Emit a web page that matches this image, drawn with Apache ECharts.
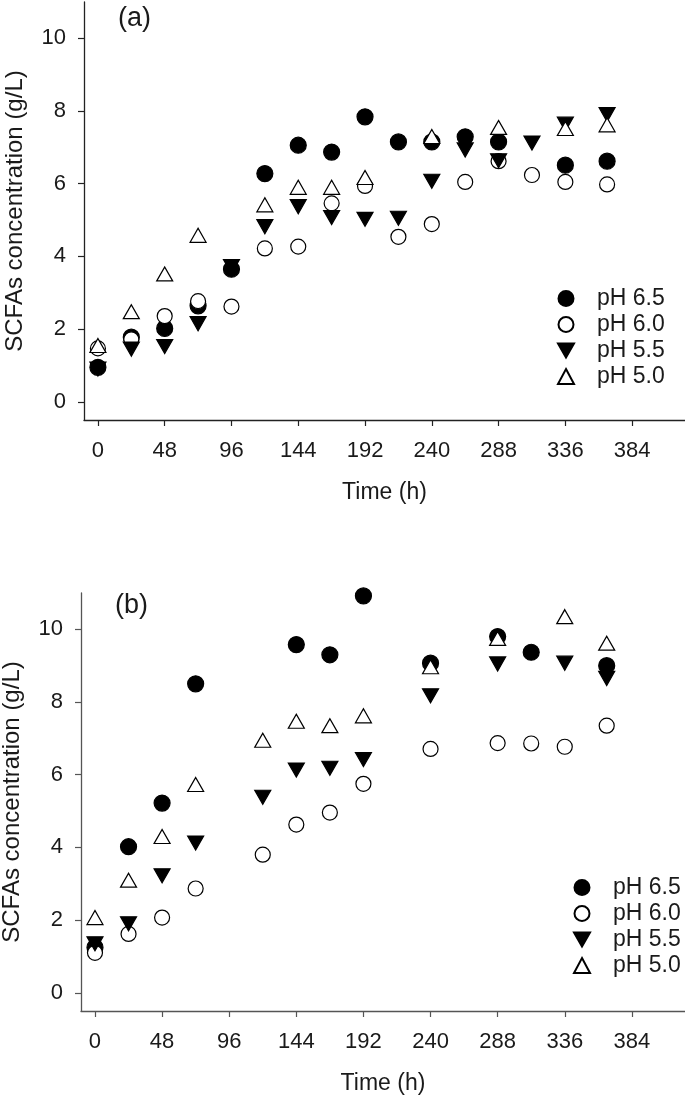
<!DOCTYPE html>
<html>
<head>
<meta charset="utf-8">
<script src="https://cdn.jsdelivr.net/npm/echarts@6/dist/echarts.min.js"></script>
<style>
html,body{margin:0;padding:0;background:#fff;}
#chart{width:685px;height:1096px;}
</style>
</head>
<body>
<div id="chart"></div>
<script>
// ---- Data ----
var seriesNames = ['pH 6.5', 'pH 6.0', 'pH 5.5', 'pH 5.0'];
var xTicks = [0, 48, 96, 144, 192, 240, 288, 336, 384];
var yTicks = [0, 2, 4, 6, 8, 10];

// Panel (a)
var timesA = [0, 24, 48, 72, 96, 120, 144, 168, 192, 216, 240, 264, 288, 312, 336, 366];
var a_pH65 = [0.95, 1.78, 2.02, 2.64, 3.65, 6.28, 7.06, 6.87, 7.84, 7.15, 7.15, 7.29, 7.15, null, 6.51, 6.62];
var a_pH60 = [1.47, 1.72, 2.36, 2.77, 2.62, 4.22, 4.27, 5.46, 5.94, 4.54, 4.89, 6.05, 6.62, 6.24, 6.05, 5.98];
var a_pH55 = [0.90, 1.45, 1.52, 2.15, 3.72, 4.82, 5.37, 5.07, 5.02, 5.05, 6.07, 6.93, 6.63, 7.12, 7.64, 7.90];
var a_pH50 = [1.55, 2.48, 3.52, 4.58, null, 5.42, 5.90, 5.90, 6.17, null, 7.30, null, 7.55, null, 7.52, 7.62];

// Panel (b)
var timesB = [0, 24, 48, 72, 120, 144, 168, 192, 240, 288, 312, 336, 366];
var b_pH65 = [1.25, 4.02, 5.22, 8.50, null, 9.58, 9.30, 10.92, 9.07, 9.80, 9.37, null, 9.00];
var b_pH60 = [1.10, 1.62, 2.07, 2.87, 3.80, 4.63, 4.96, 5.75, 6.71, 6.87, 6.86, 6.77, 7.35];
var b_pH55 = [1.35, 1.90, 3.22, 4.12, 5.38, 6.13, 6.18, 6.42, 8.17, 9.05, null, 9.07, 8.65];
var b_pH50 = [2.07, 3.10, 4.30, 5.73, 6.95, 7.47, 7.35, 7.62, 8.97, 9.75, null, 10.35, 9.62];

// ---- Build ----
function pairs(times, vals) {
  var out = [];
  for (var i = 0; i < times.length; i++) {
    if (vals[i] !== null && vals[i] !== undefined) out.push([times[i], vals[i]]);
  }
  return out;
}
var FONT = 'Liberation Sans, Arial, sans-serif';
var TXT = '#1a1a1a';
var styles = [
  { symbol: 'circle', size: 16, rot: 0, fill: '#000', border: '#000' },
  { symbol: 'circle', size: 15, rot: 0, fill: '#fff', border: '#000' },
  { symbol: 'triangle', size: [16, 14], rot: 180, fill: '#000', border: '#000' },
  { symbol: 'triangle', size: [16, 14], rot: 0, fill: '#fff', border: '#000' }
];
function mkSeries(idx, name, data) {
  var s = styles[idx % 4];
  return {
    type: 'scatter', name: name,
    xAxisIndex: idx < 4 ? 0 : 1, yAxisIndex: idx < 4 ? 0 : 1,
    data: data, symbol: s.symbol, symbolSize: s.size, symbolRotate: s.rot,
    itemStyle: { color: s.fill, borderColor: s.border, borderWidth: 1.2, opacity: 1 },
    emphasis: { disabled: true }, animation: false
  };
}
var series = [
  mkSeries(0, seriesNames[0], pairs(timesA, a_pH65)),
  mkSeries(1, seriesNames[1], pairs(timesA, a_pH60)),
  mkSeries(2, seriesNames[2], pairs(timesA, a_pH55)),
  mkSeries(3, seriesNames[3], pairs(timesA, a_pH50)),
  mkSeries(4, seriesNames[0], pairs(timesB, b_pH65)),
  mkSeries(5, seriesNames[1], pairs(timesB, b_pH60)),
  mkSeries(6, seriesNames[2], pairs(timesB, b_pH55)),
  mkSeries(7, seriesNames[3], pairs(timesB, b_pH50))
];
function xAx(gi, col) {
  return {
    type: 'value', gridIndex: gi, min: -10, max: 422,
    name: 'Time (h)', nameLocation: 'middle', nameGap: 61,
    nameTextStyle: { fontFamily: FONT, fontSize: 23, color: TXT },
    axisLine: { show: true, onZero: false, lineStyle: { color: col, width: 1.3 } },
    axisTick: { show: true, length: 6, customValues: xTicks, lineStyle: { color: col, width: 1.2 } },
    axisLabel: { customValues: xTicks, margin: 20, fontFamily: FONT, fontSize: 22, color: TXT },
    splitLine: { show: false }
  };
}
function yAx(gi, col) {
  return {
    type: 'value', gridIndex: gi, min: -0.5, max: 11,
    name: 'SCFAs concentration (g/L)', nameLocation: 'middle', nameGap: 57, nameRotate: 90,
    nameTextStyle: { fontFamily: FONT, fontSize: 24, color: TXT },
    axisLine: { show: true, onZero: false, lineStyle: { color: col, width: 1.3 } },
    axisTick: { show: true, length: 6, customValues: yTicks, lineStyle: { color: col, width: 1.2 } },
    axisLabel: { customValues: yTicks, margin: 18, fontFamily: FONT, fontSize: 22, color: TXT },
    splitLine: { show: false }
  };
}
var invTri = 'path://M0,0L16,0L8,14Z';
function legend(left, top) {
  return {
    orient: 'vertical', left: left, top: top,
    data: [
      { name: seriesNames[0] },
      { name: seriesNames[1] },
      { name: seriesNames[2], icon: invTri },
      { name: seriesNames[3] }
    ],
    itemWidth: 16, itemHeight: 15, itemGap: 3,
    selectedMode: false,
    textStyle: { fontFamily: FONT, fontSize: 23, color: TXT, padding: [0, 0, 0, 18] }
  };
}
var chart = echarts.init(document.getElementById('chart'), null, { renderer: 'canvas' });
chart.setOption({
  backgroundColor: '#fff',
  animation: false,
  grid: [
    { left: 84, top: 2, width: 601, height: 418, outerBoundsMode: 'none', containLabel: false },
    { left: 81, top: 593, width: 604, height: 418, outerBoundsMode: 'none', containLabel: false }
  ],
  xAxis: [xAx(0, '#222'), xAx(1, '#555')],
  yAxis: [yAx(0, '#222'), yAx(1, '#555')],
  legend: [legend(552, 282), legend(568, 871)],
  graphic: [
    { type: 'text', left: 118, top: 5, style: { text: '(a)', fontFamily: FONT, fontSize: 27, fill: TXT } },
    { type: 'text', left: 115, top: 592, style: { text: '(b)', fontFamily: FONT, fontSize: 27, fill: TXT } }
  ],
  series: series
});
</script>
</body>
</html>
